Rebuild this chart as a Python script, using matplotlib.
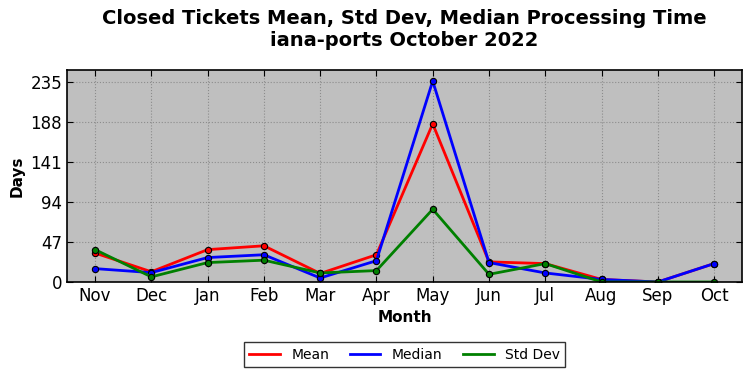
import matplotlib
matplotlib.use("Agg")
import matplotlib.pyplot as plt
from matplotlib.lines import Line2D

months = ["Nov", "Dec", "Jan", "Feb", "Mar", "Apr", "May", "Jun", "Jul", "Aug", "Sep", "Oct"]
mean_vals = [34, 12, 38, 42.5, 10, 32, 185.7, 23.6, 21.6, 3, 0, 21.6]
median_vals = [15.7, 11, 28.7, 32, 4.7, 25, 236, 22.8, 10.6, 3, 0, 21.6]
std_vals = [38, 6, 22.8, 25.6, 10.6, 13.4, 85.4, 9, 21.6, 0, 0, 0]
yticks = [0, 47, 94, 141, 188, 235]

fig = plt.figure(figsize=(7.52, 3.78), dpi=100)
ax = fig.add_axes([0.089, 0.254, 0.898, 0.561])
ax.set_facecolor("#bfbfbf")
x = list(range(len(months)))
kw = dict(marker="o", markersize=4.5, markeredgecolor="black", markeredgewidth=0.8, linewidth=2)
ax.plot(x, mean_vals, color="red", markerfacecolor="red", **kw)
ax.plot(x, median_vals, color="blue", markerfacecolor="blue", **kw)
ax.plot(x, std_vals, color="green", markerfacecolor="green", **kw)

ax.set_xlim(-0.5, 11.5)
ax.set_ylim(0, 249)
ax.set_xticks(x)
ax.set_xticklabels(months, fontsize=12)
ax.set_yticks(yticks)
ax.set_yticklabels([str(v) for v in yticks], fontsize=12)
ax.tick_params(direction="in", top=True, right=True, length=4)
ax.grid(True, linestyle=":", color="#8c8c8c", linewidth=0.8)
ax.set_axisbelow(True)
for s in ax.spines.values():
    s.set_linewidth(1.2)
ax.set_xlabel("Month", fontsize=11, fontweight="bold")
ax.set_ylabel("Days", fontsize=11, fontweight="bold")
fig.suptitle("Closed Tickets Mean, Std Dev, Median Processing Time\niana-ports October 2022",
             fontsize=14, fontweight="bold", x=0.538, y=0.975)
handles = [Line2D([], [], color="red", linewidth=2),
           Line2D([], [], color="blue", linewidth=2),
           Line2D([], [], color="green", linewidth=2)]
leg = fig.legend(handles, ["Mean", "Median", "Std Dev"], loc="center",
                 bbox_to_anchor=(0.538, 0.061), ncol=3, fontsize=10,
                 fancybox=False, edgecolor="black", columnspacing=1.5, handlelength=2.2)
leg.get_frame().set_linewidth(1.0)
fig.savefig("out.png", dpi=100)
